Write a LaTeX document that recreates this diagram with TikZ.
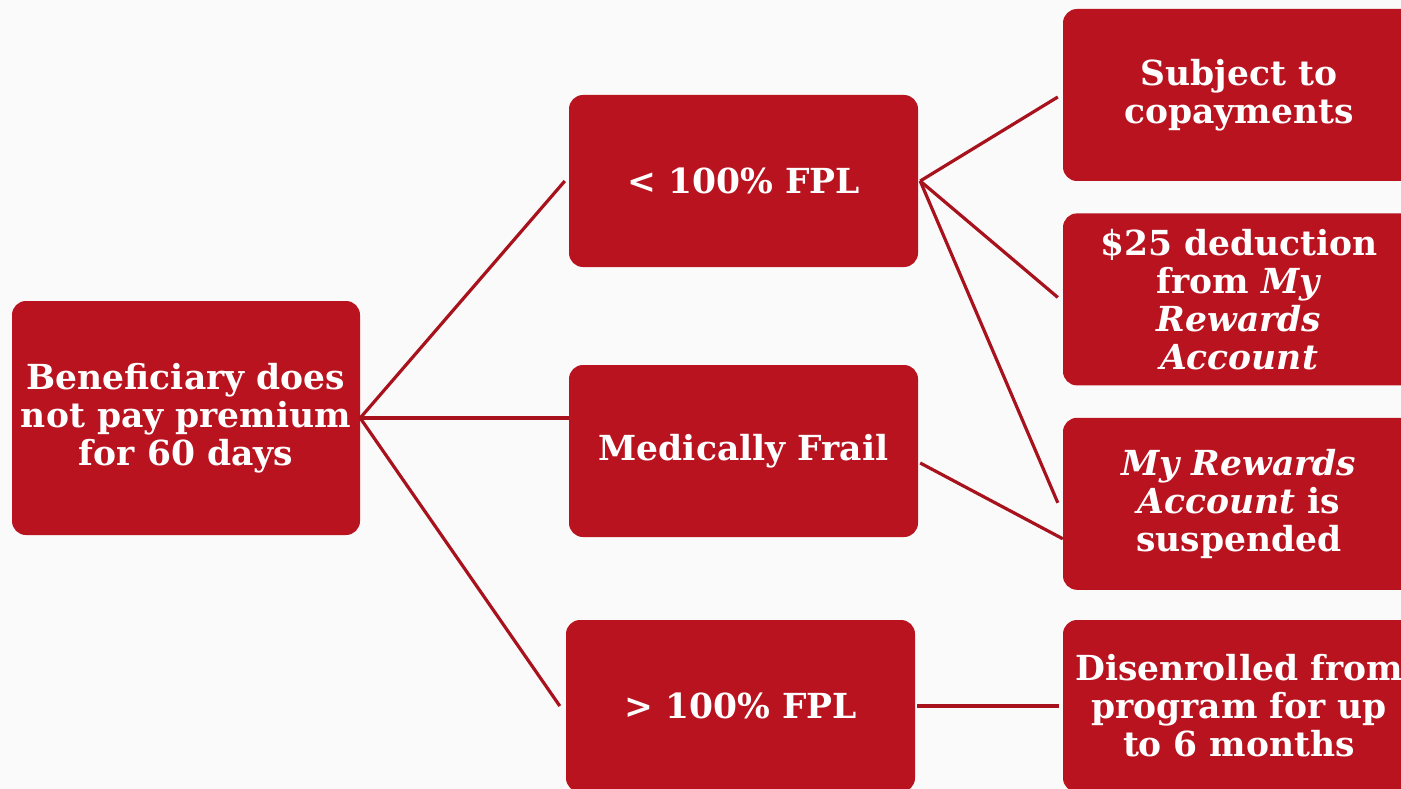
\documentclass[tikz,border=0pt]{standalone}
\usepackage{fontspec}
\setmainfont{DejaVu Serif}
\usetikzlibrary{positioning}

\definecolor{boxred}{HTML}{B8131F}
\definecolor{linered}{HTML}{A8121D}
\definecolor{pagebg}{HTML}{FAFAFA}

\begin{document}
\begin{tikzpicture}[
    x=1pt, y=1pt,
    node distance=32pt and 144pt,
    box/.style={
        rectangle, fill=boxred, rounded corners=14pt, minimum height=172pt,
        minimum width=349pt, align=center, text=white, inner sep=0pt,
        font=\fontsize{34.5}{38}\selectfont\bfseries
    },
    rootbox/.style={box, minimum width=348pt, minimum height=234pt},
    outbox/.style={box, minimum width=352pt},
    link/.style={draw=linered, line width=3.2pt}
]
\fill[pagebg] (0,0) rectangle (1401,-789);
\useasboundingbox (0,0) rectangle (1401,-789);

% left and middle column
\node[rootbox] (root) at (186,-418) {Beneficiary does\\not pay premium\\for 60 days};
\node[box] (below100) at (743.5,-181) {< 100\% FPL};
\node[box] (frail) at (743.5,-451) {Medically Frail};
\node[box] (above100) at (740.5,-706) {> 100\% FPL};

% outcomes
\node[outbox] (copay) at (1239,-95) {Subject to\\copayments};
\node[outbox, below=of copay] (deduct) {\$25 deduction\\from \textit{My}\\\textit{Rewards}\\\textit{Account}};
\node[outbox, below=of deduct] (suspend) {\textit{My Rewards}\\\textit{Account} is\\suspended};
\node[outbox] (disenroll) at (1239,-706) {Disenrolled from\\program for up\\to 6 months};

\draw[link] (root.east) -- ([xshift=-4pt]below100.west);
\draw[link] (root.east) -- (root.east -| frail.west);
\draw[link] (root.east) -- ([xshift=-6pt]above100.west);

\draw[link] ([xshift=2pt]below100.east) -- ([xshift=-5pt,yshift=-2pt]copay.west);
\draw[link] ([xshift=2pt]below100.east) -- ([xshift=-5pt,yshift=2pt]deduct.west);
\draw[link] ([xshift=2pt]below100.east) -- ([xshift=-5pt,yshift=1pt]suspend.west);
\draw[link] ([xshift=2pt,yshift=-12pt]frail.east) -- ([yshift=-35pt]suspend.west);
\draw[link] ([xshift=2pt]above100.east) -- ([xshift=-4pt]disenroll.west);
\end{tikzpicture}
\end{document}
